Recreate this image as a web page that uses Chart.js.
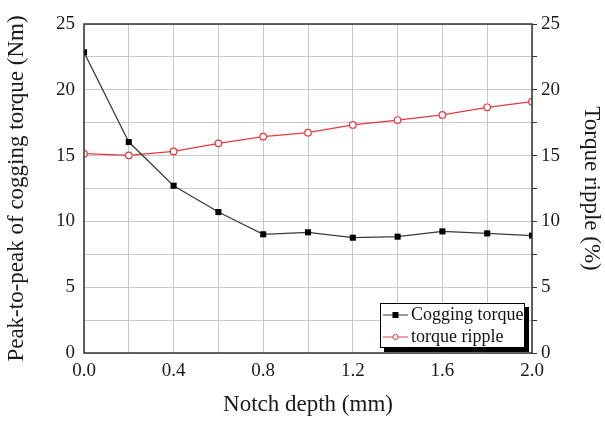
<!DOCTYPE html>
<html>
<head>
<meta charset="utf-8">
<script src="https://cdn.jsdelivr.net/npm/chart.js@4/dist/chart.umd.min.js"></script>
<style>
  html, body { margin: 0; padding: 0; background: #fff; }
  #wrap { width: 605px; height: 423px; }
</style>
</head>
<body>
<div id="wrap"><canvas id="c" width="605" height="423"></canvas></div>
<script>
// Notch depth sweep (mm)
const notchDepth = [0.0, 0.2, 0.4, 0.6, 0.8, 1.0, 1.2, 1.4, 1.6, 1.8, 2.0];
// Peak-to-peak cogging torque (Nm)
const coggingTorque = [22.85, 16.03, 12.71, 10.71, 9.02, 9.17, 8.76, 8.84, 9.24, 9.09, 8.92];
// Torque ripple (%)
const torqueRipple = [15.15, 15.02, 15.32, 15.93, 16.44, 16.74, 17.33, 17.70, 18.09, 18.67, 19.10];

const seriesNames = ['Cogging torque', 'torque ripple'];
const xTitle = 'Notch depth (mm)';
const yTitle = 'Peak-to-peak of cogging torque (Nm)';
const y2Title = 'Torque ripple (%)';

const serif = "'Liberation Serif', 'DejaVu Serif', serif";
const AXIS = '#333333';
const GRID = '#c9c9c9';
const RED = '#e8383d';

const toPoints = (xs, ys) => xs.map((x, i) => ({ x: x, y: ys[i] }));

// Draws the frame around the plotting area
const framePlugin = {
  id: 'frame',
  afterDatasetsDraw(chart) {
    const a = chart.chartArea, ctx = chart.ctx;
    ctx.save();
    ctx.strokeStyle = AXIS;
    ctx.lineWidth = 1.5;
    ctx.strokeRect(a.left, a.top, a.right - a.left, a.bottom - a.top);
    ctx.restore();
  }
};

// Boxed legend with drop shadow in the lower right corner of the plot
const boxLegend = {
  id: 'boxLegend',
  afterDraw(chart) {
    const a = chart.chartArea, ctx = chart.ctx;
    const w = 145, h = 45, sh = 4;
    const x0 = a.right - 7 - w, y0 = a.bottom - 5 - h;
    ctx.save();
    ctx.fillStyle = '#000';
    ctx.fillRect(x0 + sh, y0 + sh, w, h);
    ctx.fillStyle = '#fff';
    ctx.fillRect(x0, y0, w, h);
    ctx.strokeStyle = '#000';
    ctx.lineWidth = 1;
    ctx.strokeRect(x0 + 0.5, y0 + 0.5, w - 1, h - 1);
    ctx.font = '18px ' + serif;
    ctx.textBaseline = 'middle';
    chart.data.datasets.forEach((ds, i) => {
      const cy = y0 + 12 + i * 22;
      const lx0 = x0 + 3, lx1 = x0 + 28, mx = (lx0 + lx1) / 2;
      ctx.strokeStyle = ds.borderColor;
      ctx.lineWidth = 1;
      ctx.beginPath();
      ctx.moveTo(lx0, cy); ctx.lineTo(lx1, cy);
      ctx.stroke();
      if (ds.pointStyle === 'rect') {
        ctx.fillStyle = ds.pointBackgroundColor;
        ctx.fillRect(mx - 3, cy - 3, 6, 6);
      } else {
        ctx.fillStyle = '#fff';
        ctx.beginPath();
        ctx.arc(mx, cy, 2.6, 0, Math.PI * 2);
        ctx.fill();
        ctx.strokeStyle = ds.pointBorderColor;
        ctx.stroke();
      }
      ctx.fillStyle = '#111';
      ctx.fillText(ds.label, x0 + 31, cy);
    });
    ctx.restore();
  }
};

new Chart(document.getElementById('c'), {
  type: 'line',
  data: {
    datasets: [
      {
        label: seriesNames[0],
        data: toPoints(notchDepth, coggingTorque),
        yAxisID: 'y',
        borderColor: '#3a3a3a',
        borderWidth: 1.2,
        pointStyle: 'rect',
        pointRadius: 4.3,
        pointBackgroundColor: '#000',
        pointBorderColor: '#000',
        pointBorderWidth: 0,
        tension: 0
      },
      {
        label: seriesNames[1],
        data: toPoints(notchDepth, torqueRipple),
        yAxisID: 'y2',
        borderColor: RED,
        borderWidth: 1.2,
        pointStyle: 'circle',
        pointRadius: 3.3,
        pointBackgroundColor: '#fff',
        pointBorderColor: RED,
        pointBorderWidth: 1.2,
        tension: 0
      }
    ]
  },
  options: {
    responsive: false,
    animation: false,
    layout: { padding: { top: 24, left: 0, right: 0, bottom: 0 } },
    plugins: { legend: { display: false }, tooltip: { enabled: false } },
    scales: {
      x: {
        type: 'linear',
        min: 0, max: 2,
        afterFit(s) { s.height = 70; },
        border: { display: false },
        grid: { color: GRID, lineWidth: 1, drawTicks: false },
        ticks: {
          stepSize: 0.2,
          padding: 7,
          color: '#1a1a1a',
          font: { family: serif, size: 19 },
          callback: v => (Math.round(v * 10) % 4 === 0 ? v.toFixed(1) : '')
        },
        title: {
          display: true, text: xTitle, color: '#1a1a1a',
          font: { family: serif, size: 23 },
          padding: { top: 4, bottom: 4 }
        }
      },
      y: {
        position: 'left',
        min: 0, max: 25,
        afterFit(s) { s.width = 84; },
        border: { display: false },
        grid: { color: GRID, lineWidth: 1, drawTicks: false },
        ticks: {
          stepSize: 2.5,
          padding: 9,
          color: '#1a1a1a',
          font: { family: serif, size: 19 },
          callback: v => (v % 5 === 0 ? v : '')
        },
        title: {
          display: true, text: yTitle, color: '#1a1a1a',
          font: { family: serif, size: 23 },
          padding: { top: 3, bottom: 3 }
        }
      },
      y2: {
        position: 'right',
        min: 0, max: 25,
        afterFit(s) { s.width = 73; },
        border: { display: false },
        grid: { drawOnChartArea: false, drawTicks: true, tickLength: 5, color: AXIS, lineWidth: 1 },
        ticks: {
          stepSize: 2.5,
          padding: 4,
          color: '#1a1a1a',
          font: { family: serif, size: 19 },
          callback: v => (v % 5 === 0 ? v : '')
        },
        title: {
          display: true, text: y2Title, color: '#1a1a1a',
          font: { family: serif, size: 23 },
          padding: { top: 0, bottom: 0 }
        }
      }
    }
  },
  plugins: [framePlugin, boxLegend]
});
</script>
</body>
</html>
